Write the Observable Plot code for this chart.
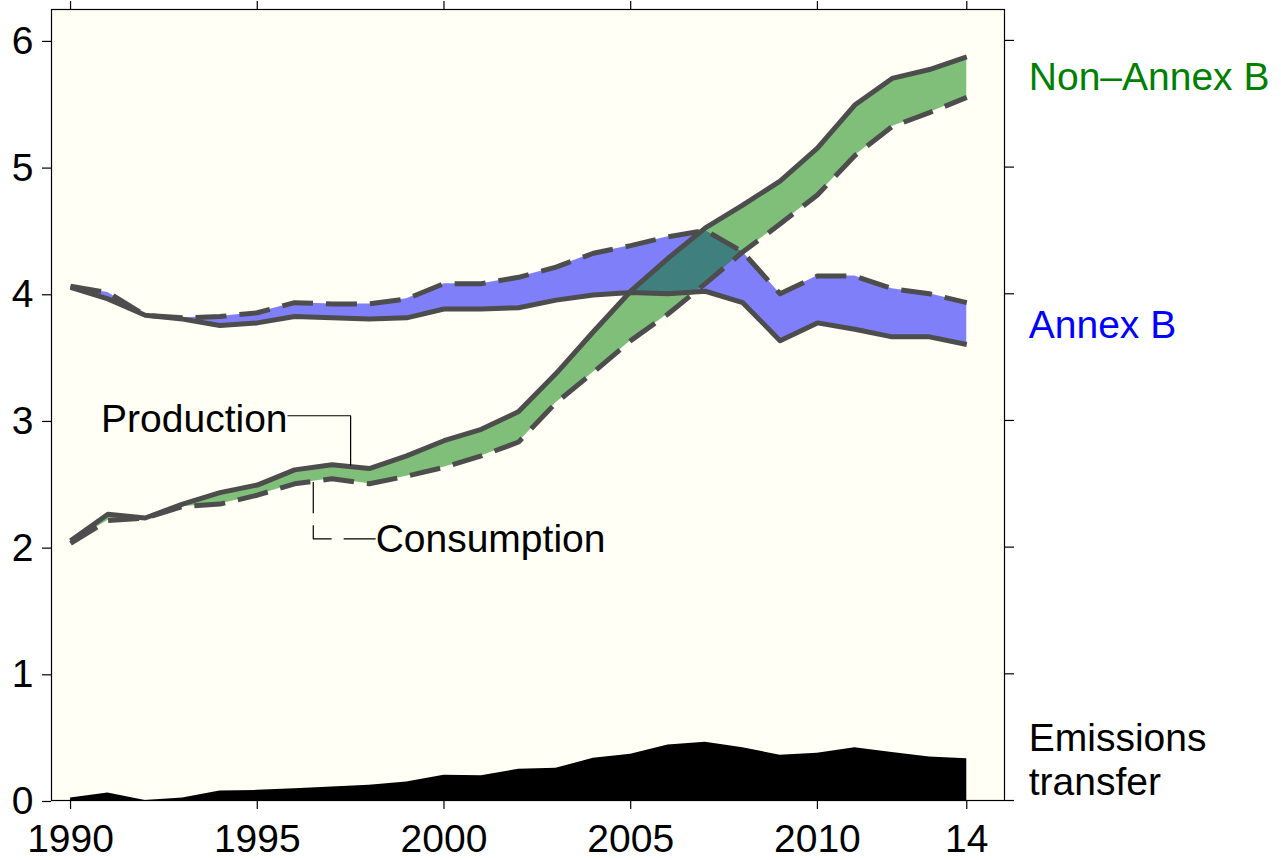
<!DOCTYPE html>
<html>
<head>
<meta charset="utf-8">
<script src="https://cdn.jsdelivr.net/npm/d3@7"></script>
<script src="https://cdn.jsdelivr.net/npm/@observablehq/plot@0.6"></script>
<style>
  html, body { margin: 0; padding: 0; background: #ffffff; }
</style>
</head>
<body>
<div id="chart"></div>
<script>
// ---- data ----
const years = [1990,1991,1992,1993,1994,1995,1996,1997,1998,1999,2000,2001,2002,2003,2004,2005,2006,2007,2008,2009,2010,2011,2012,2013,2014];
const annexBProduction  = [4.05,3.96,3.83,3.80,3.75,3.77,3.82,3.81,3.80,3.81,3.88,3.88,3.89,3.95,3.99,4.01,4.00,4.02,3.93,3.63,3.77,3.72,3.66,3.66,3.60];
const annexBConsumption = [4.06,4.01,3.83,3.81,3.82,3.85,3.93,3.92,3.92,3.96,4.08,4.08,4.13,4.21,4.32,4.38,4.45,4.50,4.33,4.00,4.14,4.14,4.04,4.00,3.93];
const nonAnnexBProduction  = [2.05,2.26,2.23,2.34,2.43,2.49,2.61,2.65,2.62,2.72,2.84,2.93,3.07,3.37,3.70,4.02,4.28,4.52,4.70,4.89,5.15,5.49,5.70,5.77,5.87];
const nonAnnexBConsumption = [2.03,2.21,2.23,2.32,2.34,2.41,2.50,2.54,2.50,2.56,2.63,2.72,2.83,3.14,3.38,3.63,3.84,4.08,4.33,4.55,4.78,5.09,5.32,5.43,5.55];
const emissionsTransfer = [0.02,0.06,0.00,0.02,0.075,0.08,0.093,0.107,0.12,0.146,0.20,0.196,0.246,0.254,0.333,0.365,0.438,0.46,0.417,0.357,0.373,0.417,0.378,0.344,0.33];

const xTicks = [1990,1995,2000,2005,2010,2014];
const xTickLabels = ["1990","1995","2000","2005","2010","14"];
const yTicks = [0,1,2,3,4,5,6];

// annotation leaders (data coordinates)
const productionLeader  = [{x:1995.81,y:3.037},{x:1997.50,y:3.037},{x:1997.50,y:2.645}];
const consumptionLeader = [{x:1998.17,y:2.066},{x:1996.50,y:2.066},{x:1996.50,y:2.515}];

const rows = years.map((year, i) => ({
  year,
  abP: annexBProduction[i], abC: annexBConsumption[i],
  naP: nonAnnexBProduction[i], naC: nonAnnexBConsumption[i],
  tr: emissionsTransfer[i]
}));
const last = rows[rows.length - 1];

const FONT = "'Liberation Sans', Arial, Helvetica, sans-serif";
const lineColor = "#4d4d4d";
const dash = "31,13";

const chart = Plot.plot({
  width: 1281,
  height: 860,
  marginLeft: 51,
  marginRight: 277,
  marginTop: 9,
  marginBottom: 60,
  style: {fontFamily: FONT, fontSize: "39px", background: "#ffffff", color: "#000000", overflow: "visible"},
  x: {domain: [1989.49, 2015.01]},
  y: {domain: [0, 6.244]},
  marks: [
    Plot.frame({fill: "#fffff5", stroke: "none"}),
    Plot.areaY(rows, {x: "year", y: "tr", fill: "#000000"}),
    Plot.areaY(rows, {x: "year", y1: "abP", y2: "abC", fill: "#0000ff", fillOpacity: 0.5}),
    Plot.areaY(rows, {x: "year", y1: "naP", y2: "naC", fill: "#008000", fillOpacity: 0.5}),
    Plot.lineY(rows, {x: "year", y: "abP", stroke: lineColor, strokeWidth: 5, strokeLinecap: "butt", strokeLinejoin: "round"}),
    Plot.lineY(rows, {x: "year", y: "abC", stroke: lineColor, strokeWidth: 5, strokeLinecap: "butt", strokeLinejoin: "round", strokeDasharray: dash}),
    Plot.lineY(rows, {x: "year", y: "naP", stroke: lineColor, strokeWidth: 5, strokeLinecap: "butt", strokeLinejoin: "round"}),
    Plot.lineY(rows, {x: "year", y: "naC", stroke: lineColor, strokeWidth: 5, strokeLinecap: "butt", strokeLinejoin: "round", strokeDasharray: dash}),

    // annotation leaders
    Plot.line(productionLeader, {x: "x", y: "y", stroke: "#000000", strokeWidth: 1.2, strokeLinecap: "butt"}),
    Plot.line(consumptionLeader, {x: "x", y: "y", stroke: "#000000", strokeWidth: 1.2, strokeLinecap: "butt", strokeDasharray: "32,12"}),
    Plot.text([productionLeader[0]], {x: "x", y: "y", text: () => "Production", textAnchor: "end", fill: "#000000", dy: 4}),
    Plot.text([consumptionLeader[0]], {x: "x", y: "y", text: () => "Consumption", textAnchor: "start", fill: "#000000", dy: 1}),

    // frame and axes
    Plot.frame({stroke: "#000000", strokeWidth: 1.2}),
    Plot.axisY({anchor: "left", ticks: yTicks, tickSize: 9, tickPadding: 9, tickFormat: d => String(d), label: null, dy: 1, strokeWidth: 1.2}),
    Plot.axisY({anchor: "right", ticks: yTicks, tickSize: 9, tickFormat: () => "", label: null, strokeWidth: 1.2}),
    Plot.axisX({anchor: "bottom", ticks: xTicks, tickSize: 9, tickPadding: 15, tickFormat: d => xTickLabels[xTicks.indexOf(d)], label: null, strokeWidth: 1.2}),
    Plot.axisX({anchor: "top", ticks: xTicks, tickSize: 9, tickFormat: () => "", label: null, strokeWidth: 1.2}),

    // right-hand labels
    Plot.text([last], {x: "year", y: d => (d.naP + d.naC) / 2, text: () => "Non\u2013Annex B", textAnchor: "start", dx: 62, fill: "#008000"}),
    Plot.text([last], {x: "year", y: d => (d.abP + d.abC) / 2, text: () => "Annex B", textAnchor: "start", dx: 62, dy: 2, fill: "#0000ff"}),
    Plot.text([last], {x: "year", y: "tr", text: () => "Emissions\ntransfer", textAnchor: "start", dx: 62, lineHeight: 1.15, fill: "#000000"})
  ]
});

document.getElementById("chart").appendChild(chart);
</script>
</body>
</html>
